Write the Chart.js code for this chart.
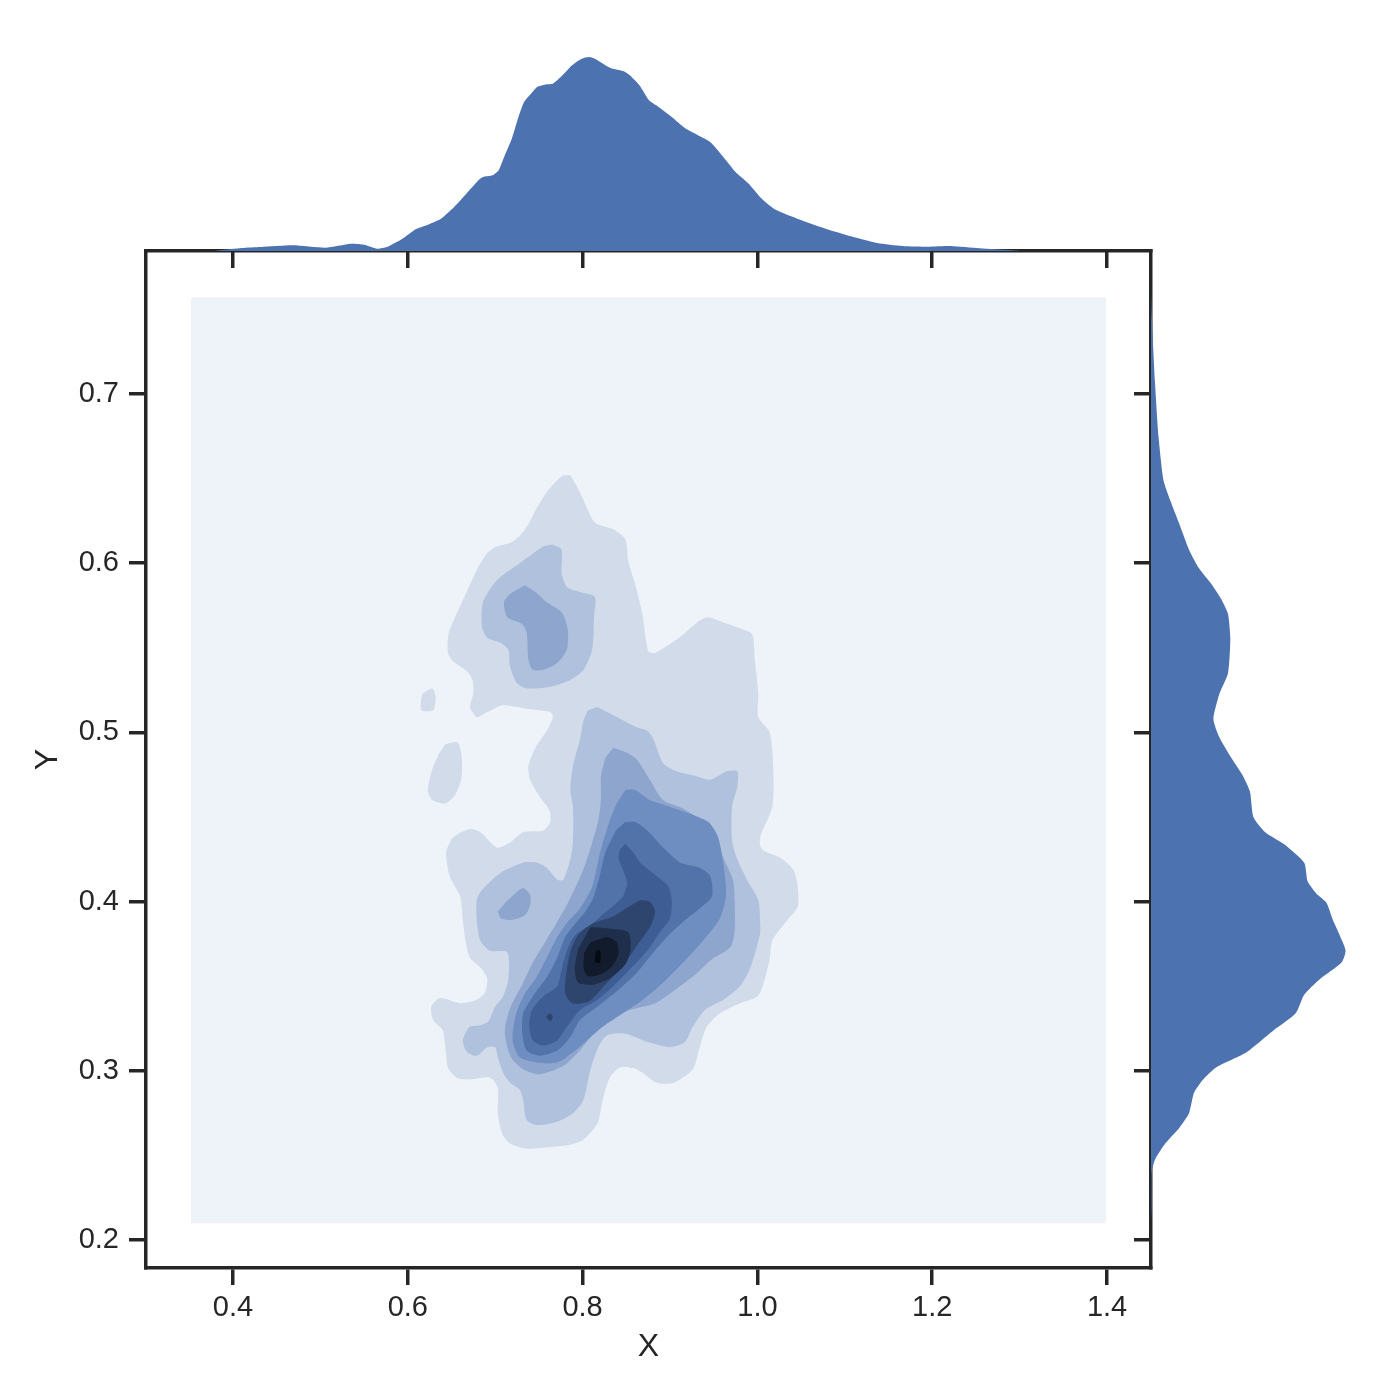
<!DOCTYPE html>
<html>
<head>
<meta charset="utf-8">
<script src="https://cdn.jsdelivr.net/npm/chart.js@4.4.1/dist/chart.umd.min.js"></script>
<style>
html,body{margin:0;padding:0;background:#ffffff;}
#wrap{position:relative;width:1400px;height:1400px;overflow:hidden;}
#wrap canvas{position:absolute;}
</style>
</head>
<body>
<div id="wrap">
  <canvas id="main" width="1400" height="1400" style="left:0;top:0"></canvas>
  <canvas id="top" width="1005" height="231" style="left:146px;top:40px"></canvas>
  <canvas id="right" width="269" height="1017" style="left:1131px;top:251px"></canvas>
</div>
<script>
// ---------- axes ----------
const xRange = [0.3005, 1.4503];
const yRange = [0.1835, 0.7845];
const xTicks = [0.4, 0.6, 0.8, 1.0, 1.2, 1.4];
const yTicks = [0.2, 0.3, 0.4, 0.5, 0.6, 0.7];
const xLabel = 'X';
const yLabel = 'Y';

// ---------- marginal densities ----------
const margX = [0.380,0.385,0.410,0.432,0.469,0.506,0.535,0.550,0.565,0.576,0.594,0.609,0.623,0.638,0.653,0.667,0.682,0.686,0.697,0.704,0.711,0.719,0.726,0.733,0.741,0.748,0.759,0.766,0.777,0.788,0.799,0.808,0.814,0.832,0.847,0.854,0.865,0.876,0.887,0.902,0.917,0.931,0.946,0.961,0.975,0.990,1.005,1.019,1.034,1.056,1.078,1.107,1.137,1.166,1.195,1.221,1.254,1.291,1.300];
const margXDensity = [0,0.014,0.06,0.08,0.114,0.066,0.146,0.126,0.046,0.08,0.246,0.434,0.526,0.646,0.88,1.146,1.434,1.48,1.514,1.614,1.914,2.246,2.646,2.98,3.146,3.28,3.334,3.346,3.514,3.714,3.846,3.88,3.846,3.66,3.594,3.514,3.314,3.014,2.88,2.68,2.46,2.326,2.18,1.88,1.58,1.346,1.046,0.846,0.726,0.58,0.446,0.294,0.16,0.10,0.086,0.10,0.054,0.014,0];
const margY = [0.760,0.747,0.707,0.675,0.649,0.637,0.624,0.608,0.597,0.588,0.579,0.570,0.555,0.535,0.523,0.508,0.497,0.485,0.474,0.465,0.450,0.441,0.434,0.423,0.412,0.405,0.3995,0.389,0.380,0.371,0.364,0.354,0.345,0.334,0.324,0.311,0.302,0.2945,0.287,0.275,0.266,0.257,0.2475,0.240,0.222,0.210];
const margYDensity = [0,0.014,0.08,0.15,0.25,0.386,0.556,0.76,0.96,1.2,1.4,1.54,1.586,1.54,1.37,1.248,1.37,1.606,1.844,1.98,2.048,2.284,2.658,3.064,3.132,3.3,3.506,3.64,3.776,3.892,3.81,3.37,3.064,2.894,2.454,1.912,1.3,1.03,0.86,0.76,0.556,0.284,0.08,0.014,0.01,0];
const margColor = '#4C72B0';

// ---------- KDE contour polygons (x, y) per level ----------
const levelColors = ['#EEF2F9','#D1DBEA','#B0C1DD','#8EA6CE','#6E8DC1','#5173AA','#3E5D94','#2E456E','#1F2E4A','#121B2C','#060A10'];

const level0 = [[[0.352,0.210],[1.399,0.210],[1.399,0.757],[0.352,0.757]]];

const level1 = [
 [[0.786,0.652],[0.797,0.642],[0.814,0.624],[0.835,0.620],[0.849,0.614],[0.852,0.602],[0.862,0.584],[0.869,0.568],[0.875,0.548],[0.883,0.547],[0.908,0.555],[0.931,0.565],[0.943,0.568],[0.961,0.565],[0.983,0.561],[0.994,0.558],[0.997,0.543],[1.001,0.523],[1.001,0.509],[1.014,0.500],[1.018,0.480],[1.017,0.456],[1.003,0.438],[1.005,0.431],[1.026,0.426],[1.041,0.419],[1.046,0.409],[1.046,0.397],[1.034,0.389],[1.017,0.377],[1.014,0.366],[1.006,0.350],[1.000,0.344],[0.980,0.340],[0.957,0.334],[0.942,0.326],[0.934,0.314],[0.926,0.301],[0.904,0.293],[0.885,0.293],[0.862,0.301],[0.843,0.302],[0.831,0.296],[0.823,0.283],[0.817,0.269],[0.800,0.259],[0.782,0.256],[0.763,0.255],[0.736,0.254],[0.717,0.257],[0.708,0.263],[0.703,0.275],[0.703,0.290],[0.694,0.296],[0.671,0.295],[0.656,0.296],[0.646,0.302],[0.643,0.314],[0.640,0.324],[0.629,0.330],[0.627,0.338],[0.637,0.343],[0.660,0.340],[0.679,0.342],[0.688,0.346],[0.691,0.354],[0.685,0.360],[0.671,0.367],[0.666,0.377],[0.663,0.389],[0.660,0.403],[0.648,0.415],[0.644,0.429],[0.652,0.438],[0.671,0.443],[0.683,0.441],[0.702,0.432],[0.717,0.435],[0.732,0.441],[0.755,0.442],[0.763,0.447],[0.762,0.454],[0.751,0.462],[0.740,0.472],[0.738,0.480],[0.746,0.491],[0.759,0.501],[0.766,0.509],[0.763,0.512],[0.736,0.514],[0.709,0.516],[0.691,0.512],[0.679,0.509],[0.674,0.512],[0.671,0.515],[0.675,0.523],[0.674,0.531],[0.668,0.536],[0.652,0.542],[0.646,0.547],[0.647,0.559],[0.663,0.578],[0.679,0.596],[0.691,0.606],[0.702,0.610],[0.717,0.612],[0.728,0.616],[0.738,0.623],[0.748,0.633],[0.759,0.642],[0.771,0.649],[0.778,0.652]],
 [[0.617,0.523],[0.628,0.526],[0.632,0.521],[0.631,0.516],[0.629,0.513],[0.616,0.513],[0.615,0.519]],
 [[0.643,0.493],[0.657,0.494],[0.662,0.484],[0.661,0.472],[0.654,0.463],[0.643,0.458],[0.628,0.460],[0.623,0.466],[0.628,0.478],[0.635,0.487]]
];

const level2 = [
 [[0.765,0.611],[0.776,0.608],[0.776,0.594],[0.782,0.586],[0.797,0.583],[0.814,0.580],[0.813,0.568],[0.811,0.549],[0.801,0.537],[0.786,0.531],[0.763,0.527],[0.736,0.526],[0.725,0.529],[0.717,0.539],[0.715,0.549],[0.706,0.553],[0.691,0.556],[0.685,0.562],[0.686,0.577],[0.702,0.590],[0.728,0.600],[0.755,0.610]],
 [[0.817,0.515],[0.828,0.512],[0.862,0.503],[0.874,0.501],[0.881,0.496],[0.892,0.482],[0.908,0.477],[0.931,0.474],[0.946,0.472],[0.961,0.476],[0.965,0.477],[0.977,0.477],[0.977,0.468],[0.971,0.456],[0.971,0.436],[0.977,0.425],[0.988,0.413],[1.001,0.401],[1.003,0.389],[1.003,0.381],[0.992,0.361],[0.980,0.350],[0.961,0.342],[0.940,0.336],[0.926,0.326],[0.917,0.317],[0.900,0.314],[0.875,0.317],[0.849,0.322],[0.828,0.321],[0.818,0.314],[0.809,0.301],[0.801,0.283],[0.789,0.275],[0.771,0.270],[0.748,0.268],[0.736,0.271],[0.732,0.283],[0.728,0.289],[0.717,0.293],[0.709,0.299],[0.703,0.308],[0.700,0.314],[0.691,0.314],[0.679,0.309],[0.668,0.311],[0.663,0.318],[0.671,0.326],[0.683,0.327],[0.692,0.329],[0.700,0.338],[0.709,0.344],[0.715,0.354],[0.714,0.370],[0.694,0.371],[0.683,0.377],[0.679,0.389],[0.679,0.401],[0.685,0.407],[0.706,0.417],[0.732,0.423],[0.748,0.423],[0.759,0.420],[0.771,0.413],[0.778,0.413],[0.786,0.425],[0.789,0.436],[0.789,0.456],[0.786,0.466],[0.789,0.480],[0.797,0.496],[0.801,0.507],[0.806,0.513]]
];

const level3 = [
 [[0.734,0.587],[0.746,0.583],[0.759,0.577],[0.776,0.571],[0.783,0.561],[0.782,0.549],[0.771,0.541],[0.755,0.537],[0.743,0.537],[0.738,0.543],[0.736,0.559],[0.731,0.564],[0.714,0.568],[0.710,0.577],[0.717,0.582]],
 [[0.835,0.491],[0.851,0.488],[0.862,0.484],[0.877,0.472],[0.892,0.460],[0.915,0.455],[0.938,0.447],[0.949,0.441],[0.961,0.426],[0.972,0.413],[0.974,0.401],[0.974,0.383],[0.969,0.373],[0.948,0.366],[0.929,0.357],[0.906,0.348],[0.883,0.340],[0.854,0.336],[0.829,0.331],[0.811,0.321],[0.795,0.311],[0.778,0.303],[0.751,0.298],[0.732,0.301],[0.718,0.308],[0.711,0.323],[0.717,0.337],[0.731,0.351],[0.743,0.364],[0.757,0.376],[0.772,0.389],[0.783,0.399],[0.795,0.412],[0.803,0.422],[0.811,0.435],[0.818,0.448],[0.821,0.460],[0.821,0.474],[0.826,0.485]],
 [[0.703,0.394],[0.711,0.399],[0.723,0.405],[0.732,0.408],[0.740,0.404],[0.740,0.398],[0.734,0.392],[0.717,0.389],[0.706,0.390]]
];

const level4 = [
 [[0.849,0.466],[0.860,0.466],[0.877,0.460],[0.900,0.456],[0.923,0.452],[0.944,0.447],[0.955,0.438],[0.962,0.419],[0.964,0.403],[0.957,0.390],[0.938,0.377],[0.915,0.364],[0.892,0.352],[0.869,0.342],[0.846,0.334],[0.823,0.326],[0.805,0.318],[0.789,0.311],[0.771,0.305],[0.748,0.305],[0.728,0.308],[0.720,0.318],[0.723,0.332],[0.732,0.344],[0.748,0.356],[0.759,0.367],[0.771,0.379],[0.783,0.388],[0.797,0.396],[0.811,0.409],[0.820,0.429],[0.831,0.448],[0.839,0.458]]
];

const level5 = [
 [[0.849,0.447],[0.860,0.447],[0.874,0.442],[0.892,0.432],[0.912,0.423],[0.934,0.420],[0.946,0.415],[0.948,0.403],[0.934,0.396],[0.917,0.389],[0.900,0.381],[0.881,0.370],[0.862,0.358],[0.839,0.347],[0.817,0.338],[0.797,0.330],[0.786,0.320],[0.771,0.312],[0.751,0.309],[0.736,0.312],[0.731,0.322],[0.732,0.334],[0.743,0.344],[0.760,0.356],[0.771,0.367],[0.780,0.379],[0.790,0.386],[0.803,0.394],[0.812,0.402],[0.820,0.416],[0.826,0.429],[0.838,0.442]]
];

const level6 = [
 [[0.849,0.434],[0.858,0.429],[0.866,0.423],[0.885,0.415],[0.898,0.409],[0.902,0.401],[0.900,0.390],[0.890,0.383],[0.874,0.371],[0.854,0.360],[0.835,0.350],[0.817,0.342],[0.797,0.336],[0.782,0.326],[0.771,0.318],[0.755,0.315],[0.743,0.318],[0.739,0.326],[0.742,0.336],[0.755,0.344],[0.771,0.350],[0.776,0.360],[0.782,0.371],[0.791,0.380],[0.809,0.386],[0.822,0.392],[0.834,0.397],[0.846,0.403],[0.851,0.411],[0.846,0.419],[0.841,0.426],[0.843,0.431]]
];

const level7 = [
 [[0.866,0.401],[0.877,0.400],[0.883,0.394],[0.877,0.385],[0.862,0.374],[0.846,0.362],[0.826,0.351],[0.807,0.341],[0.788,0.340],[0.780,0.346],[0.782,0.360],[0.787,0.372],[0.796,0.381],[0.811,0.387],[0.834,0.391],[0.853,0.397]],
 [[0.758,0.332],[0.763,0.334],[0.766,0.332],[0.763,0.329]]
];

const level8 = [
 [[0.809,0.385],[0.832,0.384],[0.852,0.382],[0.855,0.372],[0.849,0.363],[0.832,0.355],[0.813,0.351],[0.795,0.352],[0.791,0.360],[0.795,0.372]]
];

const level9 = [
 [[0.809,0.376],[0.828,0.379],[0.839,0.376],[0.841,0.369],[0.834,0.362],[0.820,0.357],[0.806,0.356],[0.801,0.361],[0.802,0.370]]
];

const level10 = [
 [[0.815,0.371],[0.820,0.371],[0.820,0.364],[0.814,0.364]]
];

const levels = [level0, level1, level2, level3, level4, level5, level6, level7, level8, level9, level10];

// ---------- styling ----------
const ink = '#262626';
const fontFamily = '"Liberation Sans", Arial, "DejaVu Sans", sans-serif';
const lw = 3.5;

const contourDatasets = [];
levels.forEach((polys, li) => {
  polys.forEach(poly => {
    contourDatasets.push({
      data: poly.map(p => ({x: p[0], y: p[1]})),
      showLine: true,
      fill: 'shape',
      backgroundColor: levelColors[li],
      borderWidth: 0,
      pointRadius: 0,
      pointHoverRadius: 0,
      tension: li === 0 ? 0 : 0.25,
      order: 100 - li
    });
  });
});

const fixTicks = (vals) => (s) => { s.ticks = vals.map(v => ({value: v})); };

new Chart(document.getElementById('main'), {
  type: 'scatter',
  data: {datasets: contourDatasets},
  options: {
    responsive: false,
    animation: false,
    events: [],
    layout: {padding: {left: 0, top: 251, right: 249, bottom: 0}},
    plugins: {legend: {display: false}, tooltip: {enabled: false}},
    scales: {
      x: {
        type: 'linear', position: 'bottom', min: xRange[0], max: xRange[1],
        afterBuildTicks: fixTicks(xTicks),
        afterFit: s => { s.height = 132; },
        ticks: {callback: v => Number(v).toFixed(1), color: ink, font: {family: fontFamily, size: 29}, padding: 6, autoSkip: false, maxRotation: 0},
        grid: {drawOnChartArea: false, drawTicks: true, tickLength: 17, tickWidth: lw, tickColor: ink, lineWidth: lw, color: ink},
        border: {display: true, color: ink, width: lw},
        title: {display: true, text: xLabel, color: ink, font: {family: fontFamily, size: 32}, padding: {top: 0, bottom: 34}}
      },
      y: {
        type: 'linear', position: 'left', min: yRange[0], max: yRange[1],
        afterBuildTicks: fixTicks(yTicks),
        afterFit: s => { s.width = 146; },
        ticks: {callback: v => Number(v).toFixed(1), color: ink, font: {family: fontFamily, size: 29}, padding: 10, autoSkip: false},
        grid: {drawOnChartArea: false, drawTicks: true, tickLength: 17, tickWidth: lw, tickColor: ink, lineWidth: lw, color: ink},
        border: {display: true, color: ink, width: lw},
        title: {display: true, text: yLabel, color: ink, font: {family: fontFamily, size: 32}, padding: {top: 29, bottom: 0}}
      },
      x2: {
        type: 'linear', position: 'top', min: xRange[0], max: xRange[1],
        afterFit: s => { s.height = 0; },
        ticks: {display: false},
        grid: {display: false, drawTicks: false, lineWidth: lw},
        border: {display: true, color: ink, width: lw}
      },
      y2: {
        type: 'linear', position: 'right', min: yRange[0], max: yRange[1],
        afterFit: s => { s.width = 0; },
        ticks: {display: false},
        grid: {display: false, drawTicks: false, lineWidth: lw},
        border: {display: true, color: ink, width: lw}
      }
    }
  }
});

// top marginal
new Chart(document.getElementById('top'), {
  type: 'scatter',
  data: {datasets: [{
    data: margX.map((x, i) => ({x: x, y: margXDensity[i]})),
    showLine: true, fill: 'origin', backgroundColor: margColor,
    borderWidth: 0, pointRadius: 0, tension: 0.2
  }]},
  options: {
    responsive: false, animation: false, events: [],
    layout: {padding: 0},
    plugins: {legend: {display: false}, tooltip: {enabled: false}},
    scales: {
      x: {
        type: 'linear', position: 'bottom', min: xRange[0], max: xRange[1],
        afterBuildTicks: fixTicks(xTicks),
        afterFit: s => { s.height = 20; },
        ticks: {display: false},
        grid: {drawOnChartArea: false, drawTicks: true, tickLength: 17, tickWidth: lw, tickColor: ink, lineWidth: lw, color: ink},
        border: {display: false}
      },
      y: {type: 'linear', display: false, min: 0, max: 4.22}
    }
  }
});

// right marginal
const rightPoly = margY.map((y, i) => ({x: margYDensity[i], y: y}));
new Chart(document.getElementById('right'), {
  type: 'scatter',
  data: {datasets: [{
    data: rightPoly,
    showLine: true, fill: 'shape', backgroundColor: margColor,
    borderWidth: 0, pointRadius: 0, tension: 0.2
  }]},
  options: {
    responsive: false, animation: false, events: [],
    layout: {padding: 0},
    plugins: {legend: {display: false}, tooltip: {enabled: false}},
    scales: {
      y: {
        type: 'linear', position: 'left', min: yRange[0], max: yRange[1],
        afterBuildTicks: fixTicks(yTicks),
        afterFit: s => { s.width = 20; },
        ticks: {display: false},
        grid: {drawOnChartArea: false, drawTicks: true, tickLength: 17, tickWidth: lw, tickColor: ink, lineWidth: lw, color: ink},
        border: {display: false}
      },
      x: {type: 'linear', display: false, min: 0, max: 4.98}
    }
  }
});
</script>
</body>
</html>
